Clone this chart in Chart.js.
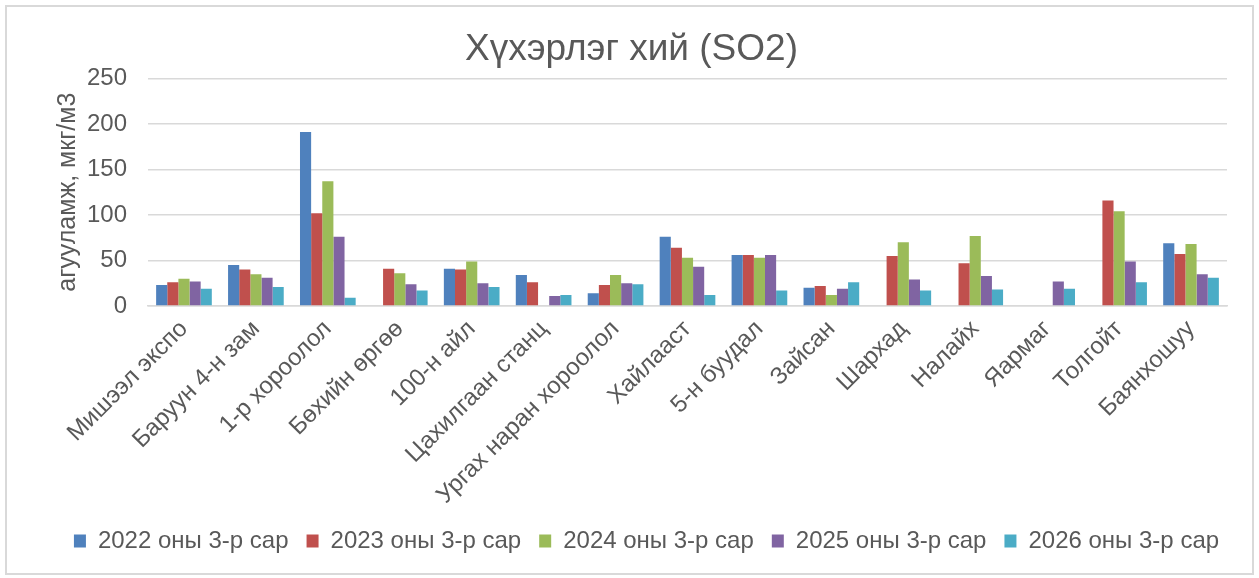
<!DOCTYPE html>
<html>
<head>
<meta charset="utf-8">
<script src="https://cdn.jsdelivr.net/npm/chart.js@4"></script>
<style>
  html, body { margin: 0; padding: 0; background: #ffffff; }
  #wrap { position: relative; width: 1259px; height: 578px; }
</style>
</head>
<body>
<div id="wrap"><canvas id="c" width="1259" height="578"></canvas></div>
<script>
const categories = ["Мишээл экспо", "Баруун 4-н зам", "1-р хороолол", "Бөхийн өргөө", "100-н айл", "Цахилгаан станц", "Ургах наран хороолол", "Хайлааст", "5-н буудал", "Зайсан", "Шархад", "Налайх", "Яармаг", "Толгойт", "Баянхошуу"];
const seriesNames = ["2022 оны 3-р сар", "2023 оны 3-р сар", "2024 оны 3-р сар", "2025 оны 3-р сар", "2026 оны 3-р сар"];
const s2022 = [23, 45, 191, null, 41, 34, 14, 76, 56, 20, null, null, null, null, 69];
const s2023 = [26, 40, 102, 41, 40, 26, 23, 64, 56, 22, 55, 47, null, 116, 57];
const s2024 = [30, 35, 137, 36, 49, null, 34, 53, 53, 12, 70, 77, null, 104, 68];
const s2025 = [27, 31, 76, 24, 25, 11, 25, 43, 56, 19, 29, 33, 27, 49, 35];
const s2026 = [19, 21, 9, 17, 21, 12, 24, 12, 17, 26, 17, 18, 19, 26, 31];
const yTicks = [0, 50, 100, 150, 200, 250];
const colors = ["#4F81BD", "#C0504D", "#9BBB59", "#8064A2", "#4BACC6"];
const allSeries = [s2022, s2023, s2024, s2025, s2026];

const FONT = "'Liberation Sans', Arial, sans-serif";
const TXT = "#595959";

const borderPlugin = {
  id: 'outerBorder',
  beforeDraw(chart) {
    if (chart.legend && !chart.legend._shifted) {
      chart.legend.left += 28; chart.legend.right += 28; chart.legend._shifted = true;
    }
    if (chart.titleBlock && !chart.titleBlock._shifted) {
      chart.titleBlock.left += 13; chart.titleBlock.right += 13; chart.titleBlock._shifted = true;
    }
  },
  afterDraw(chart) {
    const ctx = chart.ctx;
    ctx.save();
    ctx.strokeStyle = '#D9D9D9';
    ctx.lineWidth = 2;
    ctx.strokeRect(6, 6, 1247, 568);
    ctx.restore();
  }
};

new Chart(document.getElementById('c'), {
  type: 'bar',
  data: {
    labels: categories,
    datasets: allSeries.map((d, i) => ({
      label: seriesNames[i],
      data: d,
      backgroundColor: colors[i],
      borderWidth: 0,
      categoryPercentage: 0.774,
      barPercentage: 1.0
    }))
  },
  options: {
    responsive: false,
    animation: false,
    devicePixelRatio: 1,
    layout: { padding: { top: 10, left: 10, right: 32, bottom: 15 } },
    plugins: {
      title: {
        display: true,
        text: "Хүхэрлэг хий (SO2)",
        color: TXT,
        font: { family: FONT, size: 37, weight: 'normal' },
        padding: { top: 18, bottom: 6 }
      },
      legend: {
        position: 'bottom',
        labels: {
          color: TXT,
          font: { family: FONT, size: 24 },
          boxWidth: 12,
          boxHeight: 13,
          padding: 18
        }
      },
      tooltip: { enabled: false }
    },
    scales: {
      x: {
        grid: { display: false, drawTicks: false },
        border: { display: true, color: '#D9D9D9', width: 1.5 },
        ticks: {
          color: TXT,
          font: { family: FONT, size: 24 },
          maxRotation: 45,
          minRotation: 45,
          autoSkip: false,
          padding: 9
        },
        afterFit(scale) { scale.height = 205; }
      },
      y: {
        min: 0,
        max: 250,
        afterBuildTicks(scale) { scale.ticks = yTicks.map(v => ({ value: v })); },
        grid: { color: '#D9D9D9', lineWidth: 1.5, drawTicks: false },
        border: { display: false },
        ticks: {
          color: TXT,
          font: { family: FONT, size: 24 },
          padding: 21
        },
        title: {
          display: true,
          text: "агууламж, мкг/м3",
          color: TXT,
          font: { family: FONT, size: 25 },
          padding: { top: 43, bottom: 0 }
        },
        afterFit(scale) { scale.width = 138; }
      }
    }
  },
  plugins: [borderPlugin]
});
</script>
</body>
</html>
